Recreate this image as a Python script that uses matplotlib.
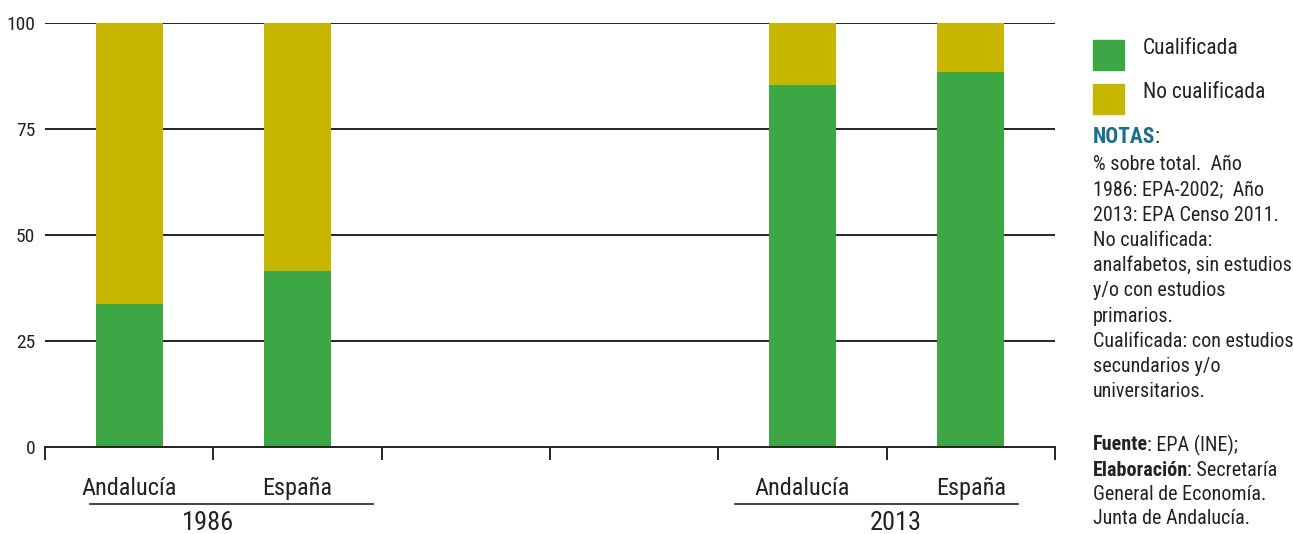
import os
import matplotlib
matplotlib.use("Agg")
import matplotlib.pyplot as plt
from matplotlib.patches import Rectangle
from matplotlib import font_manager
from matplotlib.font_manager import FontProperties

## data ##
regions = ["Andalucía", "España", "", "", "Andalucía", "España"]
years = ["1986", "2013"]
cualificada = [33.7, 41.6, 0, 0, 85.4, 88.4]
no_cualificada = [66.3, 58.4, 0, 0, 14.6, 11.6]
y_ticks = [0, 25, 50, 75, 100]
legend_labels = ["Cualificada", "No cualificada"]
notes = ["% sobre total.  Año", "1986: EPA-2002;  Año", "2013: EPA Censo 2011.",
         "No cualificada:", "analfabetos, sin estudios", "y/o con estudios",
         "primarios.", "Cualificada: con estudios", "secundarios y/o",
         "universitarios."]

GREEN = "#3da745"
YELLOW = "#c6b600"
TEAL = "#1b6f8c"
INK = "#222222"


# look for a condensed/narrow face, the reference uses a condensed font
def find_face(bold):
    found = {}
    for f in font_manager.fontManager.ttflist:
        base = os.path.basename(f.fname).lower()
        if "italic" in base or "oblique" in base:
            continue
        if not ("condensed" in base or "narrow" in base):
            continue
        if "semicondensed" in base or "extra" in base:
            continue
        w = f.weight if isinstance(f.weight, int) else (700 if "bold" in str(f.weight) else 400)
        if bold and w != 700:
            continue
        if not bold and w != 400:
            continue
        found[f.name + base] = f.fname
    for pref in ["roboto", "liberation", "noto", "open", "dejavu"]:
        for k, v in found.items():
            if k.lower().startswith(pref):
                return v
    return None


reg = find_face(False)
bld = find_face(True)
if reg:
    FP = FontProperties(fname=reg)
    FPB = FontProperties(fname=bld) if bld else FontProperties(fname=reg, weight="bold")
    scale = 1.0
else:
    FP = FontProperties(family="Roboto")
    FPB = FontProperties(family="Roboto", weight="bold")
    scale = 0.9


def fp(size, bold=False):
    p = (FPB if bold else FP).copy()
    p.set_size(size * scale)
    return p


W, H = 1293, 534
fig = plt.figure(figsize=(W / 100, H / 100), dpi=100)
ax = fig.add_axes([45 / W, 1 - 447.3 / H, (1055 - 45) / W, (447.3 - 22.9) / H])

x = list(range(len(regions)))
for yv in y_ticks[1:]:
    ax.axhline(yv, color=INK, lw=1.4, zorder=1)
ax.bar(x, cualificada, width=0.4, color=GREEN, zorder=2)
ax.bar(x, no_cualificada, width=0.4, bottom=cualificada, color=YELLOW, zorder=2)

ax.set_xlim(-0.5, 5.5)
ax.set_ylim(0, 100)
for s in ["top", "right", "left"]:
    ax.spines[s].set_visible(False)
ax.spines["bottom"].set_color(INK)
ax.spines["bottom"].set_linewidth(1.4)
ax.set_xticks([i - 0.5 for i in range(7)])
ax.set_xticklabels([])
ax.tick_params(axis="x", direction="out", length=9, width=1.4, color=INK)
ax.set_yticks(y_ticks)
ax.set_yticklabels([str(v) for v in y_ticks], color=INK)
for t in ax.get_yticklabels():
    t.set_fontproperties(fp(14))
ax.tick_params(axis="y", length=0, pad=7)

tr = ax.get_xaxis_transform()
for i, r in enumerate(regions):
    if r:
        ax.text(i, -0.096, r, transform=tr, ha="center", va="center",
                fontproperties=fp(17.5), color=INK)
# year groups with underline
for (x0, x1, xc), yr in zip([(-0.233, 1.449, 0.468), (3.599, 5.28, 4.555)], years):
    ax.plot([x0, x1], [-0.1336, -0.1336], transform=tr, color=INK, lw=1.2,
            clip_on=False)
    ax.text(xc, -0.178, yr, transform=tr, ha="center", va="center",
            fontproperties=fp(19), color=INK)

# legend
for k, (lab, col) in enumerate(zip(legend_labels, [GREEN, YELLOW])):
    top = 40 + k * 44
    fig.patches.append(Rectangle((1093 / W, 1 - (top + 30) / H), 31 / W, 30 / H,
                                 transform=fig.transFigure, color=col))
    fig.text(1143 / W, 1 - (top + 9) / H, lab, fontproperties=fp(15.5), color=INK,
             va="center", ha="left")

renderer = fig.canvas.get_renderer()


def label_line(ypx, bold, rest, bold_color=INK, size=14.5):
    t = fig.text(1093 / W, 1 - ypx / H, bold, fontproperties=fp(size, True),
                 color=bold_color, va="center", ha="left")
    bb = t.get_window_extent(renderer)
    fig.text((bb.x1 - 1) / W, 1 - ypx / H, rest, fontproperties=fp(size),
             color=INK, va="center", ha="left")


label_line(137, "NOTAS", ":", bold_color=TEAL, size=15.5)
for i, line in enumerate(notes):
    fig.text(1093 / W, 1 - (165 + 25.2 * i) / H, line, fontproperties=fp(14.5),
             color=INK, va="center", ha="left")
label_line(445, "Fuente", ": EPA (INE);")
label_line(470, "Elaboración", ": Secretaría")
fig.text(1093 / W, 1 - 494 / H, "General de Economía.", fontproperties=fp(14.5),
         color=INK, va="center", ha="left")
fig.text(1093 / W, 1 - 518 / H, "Junta de Andalucía.", fontproperties=fp(14.5),
         color=INK, va="center", ha="left")

fig.savefig("out.png", dpi=100)
